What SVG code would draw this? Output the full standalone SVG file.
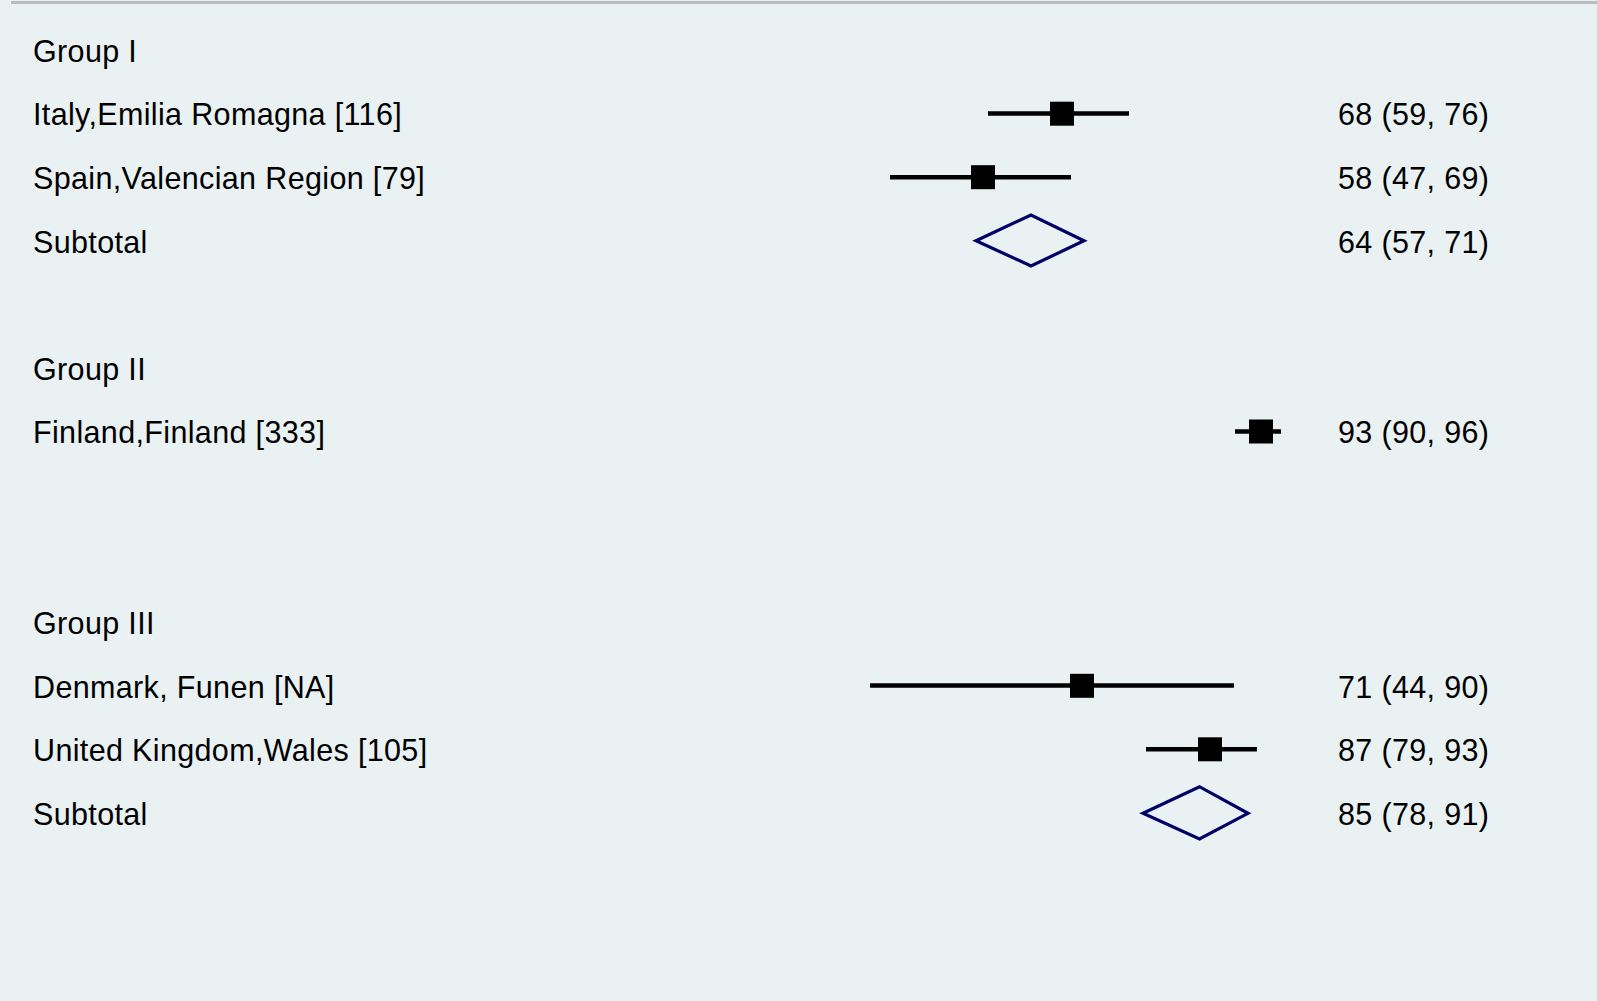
<svg xmlns="http://www.w3.org/2000/svg" width="1597" height="1001" viewBox="0 0 1597 1001">
<style>
text { font-family: "Liberation Sans", Arial, sans-serif; font-size: 30.5px; letter-spacing: 0.35px; fill: #000; }
.ci { stroke: #000; stroke-width: 4.5; fill: none; }
.pt { fill: #000; }
.dia { fill: none; stroke: #000066; stroke-width: 3.2; }
</style>
<rect x="0" y="0" width="1597" height="1001" fill="#e9f1f3"/>
<line x1="11" y1="2.5" x2="1597" y2="2.5" stroke="#bbbbbb" stroke-width="3"/>
<g id="labels">
<text x="33" y="61.8">Group I</text>
<text x="33" y="125.4">Italy,Emilia Romagna [116]</text>
<text x="33" y="189">Spain,Valencian Region [79]</text>
<text x="33" y="252.6">Subtotal</text>
<text x="33" y="379.8">Group II</text>
<text x="33" y="443.4">Finland,Finland [333]</text>
<text x="33" y="634.2">Group III</text>
<text x="33" y="697.8">Denmark, Funen [NA]</text>
<text x="33" y="761.4">United Kingdom,Wales [105]</text>
<text x="33" y="825">Subtotal</text>
</g>
<g id="values">
<text x="1338" y="125.4">68 (59, 76)</text>
<text x="1338" y="189">58 (47, 69)</text>
<text x="1338" y="252.6">64 (57, 71)</text>
<text x="1338" y="443.4">93 (90, 96)</text>
<text x="1338" y="697.8">71 (44, 90)</text>
<text x="1338" y="761.4">87 (79, 93)</text>
<text x="1338" y="825">85 (78, 91)</text>
</g>
<g id="connectors">
<line class="ci" x1="988" y1="113.5" x2="1129" y2="113.5"/>
<line class="ci" x1="890" y1="177.3" x2="1071" y2="177.3"/>
<line class="ci" x1="1235" y1="431.6" x2="1281" y2="431.6"/>
<line class="ci" x1="870" y1="685.6" x2="1234" y2="685.6"/>
<line class="ci" x1="1146" y1="749.3" x2="1257" y2="749.3"/>
</g>
<g id="italy"><rect class="pt" x="1050" y="101.7" width="24" height="24"/></g>
<g id="spain"><rect class="pt" x="971" y="165.2" width="24" height="24"/></g>
<g id="subtotal1"><polygon class="dia" points="976,240.7 1031,215 1084,240.7 1031,266"/></g>
<g id="finland"><rect class="pt" x="1249" y="419.5" width="24" height="24"/></g>
<g id="denmark"><rect class="pt" x="1070" y="673.8" width="24" height="24"/></g>
<g id="uk"><rect class="pt" x="1198" y="737.3" width="24" height="24"/></g>
<g id="subtotal3"><polygon class="dia" points="1143,813.3 1199.5,786.7 1248,813.3 1199.5,839"/></g>
</svg>
